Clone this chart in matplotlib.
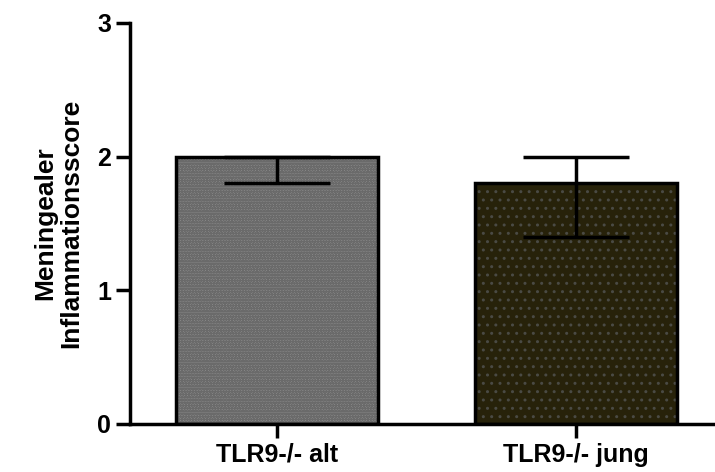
import numpy as np
import matplotlib
matplotlib.use("Agg")
import matplotlib.pyplot as plt

plt.rcParams['font.family'] = ['Liberation Sans', 'DejaVu Sans']
plt.rcParams['font.weight'] = 'bold'

# data
groups = ["TLR9-/- alt", "TLR9-/- jung"]
means = [2.0, 1.8]
err_low = [0.2, 0.4]
err_high = [0.0, 0.2]
y_ticks = [0, 1, 2, 3]

fill_colors = ['#8a8a8a', '#27220a']
hatch_colors = ['#6a6a6a', '#4a4a44']
hatches = ['oooooo', '..']

fig = plt.figure(figsize=(7.15, 4.72), dpi=100)
ax = fig.add_axes([0.1818, 0.1017, 0.8182, 0.8496])

x = np.arange(len(groups))
width = 0.675

# textured fill, then a black outline on top
for i in range(len(groups)):
    ax.bar(x[i], means[i], width=width, color=fill_colors[i],
           edgecolor=hatch_colors[i], hatch=hatches[i], linewidth=0, zorder=1)
ax.bar(x, means, width=width, fill=False, edgecolor='black', linewidth=2.5, zorder=2)

ax.errorbar(x, means, yerr=[err_low, err_high], fmt='none', ecolor='black',
            elinewidth=2.5, capsize=38, capthick=2.5, zorder=3)

ax.set_xlim(-0.492, 1.465)
ax.set_ylim(0, 3)
ax.set_yticks(y_ticks)
ax.set_xticks(x)
ax.set_xticklabels(groups)
ax.set_ylabel("Meningealer\nInflammationsscore", fontsize=19, fontweight='bold',
              labelpad=10, linespacing=1.1)

for side in ['top', 'right']:
    ax.spines[side].set_visible(False)
for side in ['left', 'bottom']:
    ax.spines[side].set_linewidth(2.5)

ax.tick_params(axis='both', width=2.5, length=10, labelsize=18, direction='out')
for lbl in ax.get_xticklabels() + ax.get_yticklabels():
    lbl.set_fontweight('bold')

fig.savefig("out.png", dpi=100)
